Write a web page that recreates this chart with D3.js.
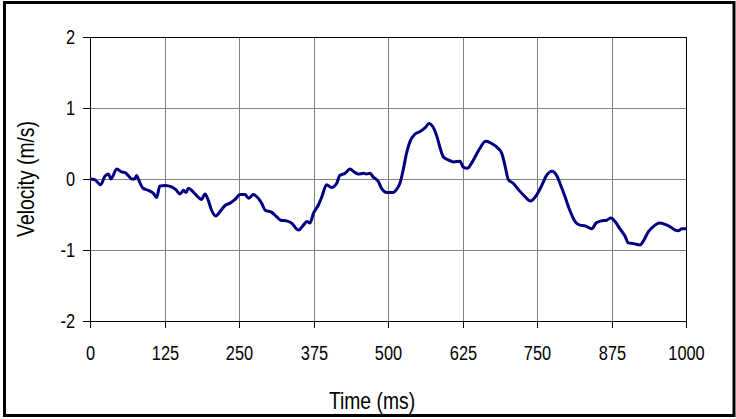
<!DOCTYPE html>
<html>
<head>
<meta charset="utf-8">
<script src="https://cdn.jsdelivr.net/npm/d3@7"></script>
<style>
  body { margin: 0; background: #fff; }
  text { font-family: "Liberation Sans", Arial, sans-serif; fill: #000; }
</style>
</head>
<body>
<svg id="chart" width="736" height="419"></svg>
<script>
var width = 736;
var height = 419;
var margin = {top: 37, right: 50, bottom: 98, left: 90};
var narrow = 0.84; // squeeze text to look like Arial Narrow

// time in ms, velocity in m/s
var timeMs = [0, 8, 18, 25, 31, 35, 45, 53, 59, 64, 70, 75, 78, 82, 89, 98, 106, 112, 117, 126,
  137, 144, 151, 157, 161, 165, 173, 182, 187, 193, 198, 204, 211, 218, 227, 235, 243, 252, 260,
  266, 274, 280, 288, 294, 305, 313, 320, 330, 338, 350, 358, 364, 369, 375, 383, 389, 397, 405,
  414, 419, 428, 436, 445, 450, 459, 464, 470, 475, 484, 489, 498, 509, 514, 520, 526, 531, 537,
  545, 554, 562, 569, 575, 582, 587, 593, 601, 610, 621, 626, 633, 640, 646, 654, 664, 674, 685,
  691, 696, 702, 710, 719, 730, 739, 749, 758, 766, 775, 783, 789, 797, 805, 814, 822, 831, 842,
  849, 858, 867, 874, 881, 889, 898, 903, 912, 923, 928, 937, 945, 956, 965, 973, 982, 987, 993, 1000];
var velocity = [0.00, -0.01, -0.08, 0.04, 0.07, 0.00, 0.14, 0.10, 0.09, 0.05, 0.00, 0.00, 0.05, -0.02, -0.13, -0.16, -0.20, -0.26, -0.10, -0.09,
  -0.11, -0.15, -0.21, -0.16, -0.19, -0.13, -0.18, -0.26, -0.29, -0.21, -0.29, -0.44, -0.52, -0.46, -0.37, -0.34, -0.29, -0.22, -0.22,
  -0.27, -0.22, -0.25, -0.34, -0.44, -0.47, -0.53, -0.58, -0.59, -0.62, -0.72, -0.65, -0.60, -0.62, -0.48, -0.37, -0.25, -0.08, -0.12,
  -0.06, 0.05, 0.08, 0.14, 0.09, 0.07, 0.08, 0.07, 0.08, 0.03, -0.04, -0.13, -0.19, -0.19, -0.15, -0.06, 0.15, 0.36, 0.53,
  0.63, 0.67, 0.72, 0.78, 0.74, 0.60, 0.45, 0.31, 0.27, 0.24, 0.25, 0.17, 0.15, 0.22, 0.31, 0.43, 0.53, 0.50, 0.43,
  0.36, 0.20, -0.01, -0.06, -0.15, -0.25, -0.31, -0.23, -0.09, 0.05, 0.11, 0.05, -0.07, -0.25, -0.44, -0.60, -0.65, -0.66, -0.70,
  -0.62, -0.59, -0.58, -0.55, -0.60, -0.70, -0.81, -0.90, -0.91, -0.93, -0.88, -0.74, -0.67, -0.62, -0.64, -0.67, -0.72, -0.73, -0.70, -0.70];

var xTicks = [0, 125, 250, 375, 500, 625, 750, 875, 1000];
var yTicks = [-2, -1, 0, 1, 2];

var svg = d3.select("#chart");

// outer frame
svg.append("rect")
  .attr("x", 4.5).attr("y", 2.5)
  .attr("width", 729.5).attr("height", 413)
  .attr("fill", "#fff")
  .attr("stroke", "#000")
  .attr("stroke-width", 3);

var plotW = width - margin.left - margin.right;
var plotH = height - margin.top - margin.bottom;

var xScale = d3.scaleLinear().domain([0, 1000]).range([0, plotW]);
var yScale = d3.scaleLinear().domain([-2, 2]).range([plotH, 0]);

var g = svg.append("g")
  .attr("transform", "translate(" + margin.left + "," + margin.top + ")");

// gridlines
g.append("g")
  .selectAll("line")
  .data(xTicks)
  .enter().append("line")
  .attr("x1", d => Math.round(xScale(d)) + 0.5)
  .attr("x2", d => Math.round(xScale(d)) + 0.5)
  .attr("y1", 0).attr("y2", plotH)
  .attr("stroke", "#808080");

g.append("g")
  .selectAll("line")
  .data(yTicks)
  .enter().append("line")
  .attr("x1", 0).attr("x2", plotW)
  .attr("y1", d => Math.round(yScale(d)) + 0.5)
  .attr("y2", d => Math.round(yScale(d)) + 0.5)
  .attr("stroke", "#808080");

// plot frame
g.append("rect")
  .attr("x", 0.5).attr("y", 0.5)
  .attr("width", plotW).attr("height", plotH)
  .attr("fill", "none")
  .attr("stroke", "#000");

// axes
var fmt = d => String(d);
var xAxis = d3.axisBottom(xScale).tickValues(xTicks).tickFormat(fmt).tickSize(7).tickPadding(18).tickSizeOuter(0);
var yAxis = d3.axisLeft(yScale).tickValues(yTicks).tickFormat(fmt).tickSize(7).tickSizeOuter(0);

var gx = g.append("g")
  .attr("transform", "translate(0," + plotH + ")")
  .call(xAxis);
var gy = g.append("g").call(yAxis);

[gx, gy].forEach(function(ax) {
  ax.select(".domain").attr("stroke", "#000");
  ax.selectAll(".tick line").attr("stroke", "#000");
  ax.selectAll(".tick text")
    .attr("fill", "#000")
    .style("font-size", "19.5px")
    .style("font-family", '"Liberation Sans", Arial, sans-serif');
});
gx.selectAll(".tick").attr("transform", d => "translate(" + (Math.round(xScale(d)) + 0.5) + ",0)");
gy.selectAll(".tick").attr("transform", d => "translate(0," + (Math.round(yScale(d)) + 0.5) + ")");
gx.selectAll(".tick text").attr("transform", "scale(" + narrow + ",1)");
gy.selectAll(".tick text")
  .attr("x", 0)
  .attr("transform", "translate(-15,0) scale(" + narrow + ",1)");

// data line
var line = d3.line()
  .x((d, i) => xScale(timeMs[i]))
  .y(d => yScale(d))
  .curve(d3.curveMonotoneX);

g.append("path")
  .datum(velocity)
  .attr("d", line)
  .attr("fill", "none")
  .attr("stroke", "#000080")
  .attr("stroke-width", 3)
  .attr("stroke-linejoin", "round");

// axis titles
svg.append("text")
  .attr("transform", "translate(" + (margin.left + plotW / 2 - 16) + ",409) scale(" + narrow + ",1)")
  .attr("text-anchor", "middle")
  .style("font-size", "23px")
  .text("Time (ms)");

svg.append("text")
  .attr("transform", "translate(34," + (margin.top + plotH / 2) + ") rotate(-90) scale(" + narrow + ",1)")
  .attr("text-anchor", "middle")
  .style("font-size", "23px")
  .text("Velocity (m/s)");
</script>
</body>
</html>
